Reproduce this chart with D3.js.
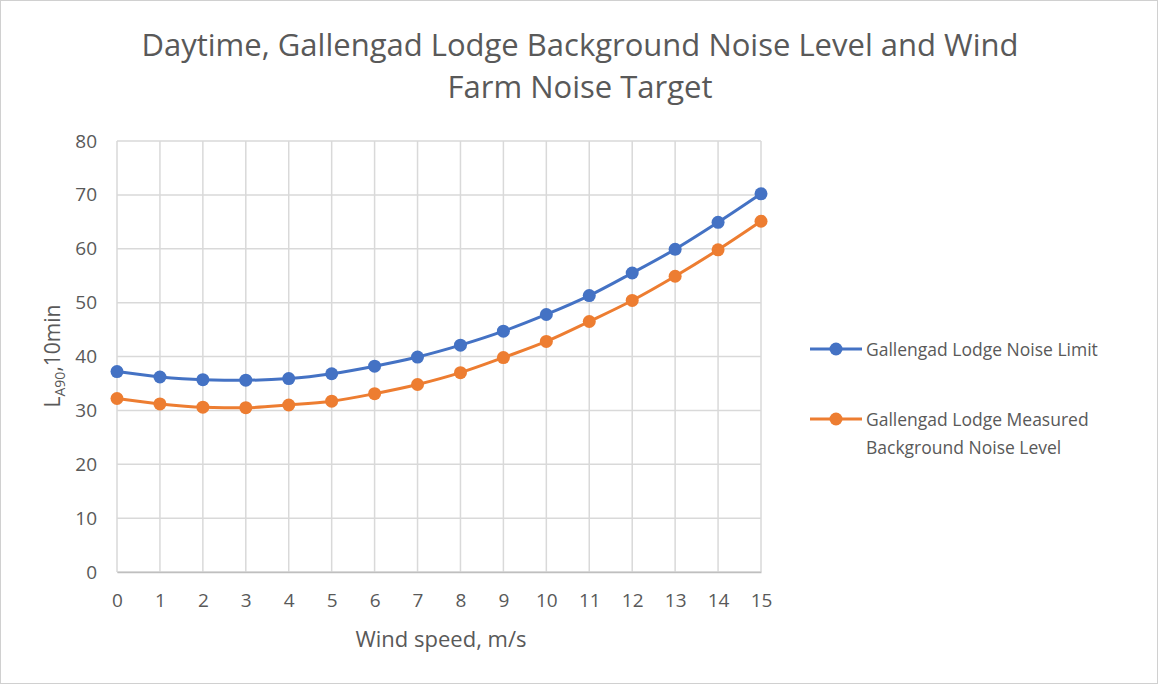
<!DOCTYPE html>
<html>
<head>
<meta charset="utf-8">
<script src="https://cdn.jsdelivr.net/npm/d3@7"></script>
<style>
  body { margin: 0; background: #fff; }
  text { font-family: "Open Sans", Lato, sans-serif; fill: #595959; }
</style>
</head>
<body>
<div id="wrapper"></div>
<script>
// wind speed categories, m/s
const windSpeeds = [0, 1, 2, 3, 4, 5, 6, 7, 8, 9, 10, 11, 12, 13, 14, 15];
// Gallengad Lodge noise limit
const noiseLimit = [37.2, 36.2, 35.7, 35.6, 35.9, 36.8, 38.2, 39.9, 42.1, 44.7, 47.8, 51.3, 55.5, 59.9, 64.9, 70.2];
// measured background noise level
const backgroundNoise = [32.2, 31.2, 30.6, 30.5, 31.0, 31.7, 33.1, 34.8, 37.0, 39.8, 42.8, 46.5, 50.4, 54.9, 59.8, 65.1];
const yTicks = [0, 10, 20, 30, 40, 50, 60, 70, 80];

const series = [
  { name: ["Gallengad Lodge Noise Limit"], values: noiseLimit, color: "#4472C4" },
  { name: ["Gallengad Lodge Measured", "Background Noise Level"], values: backgroundNoise, color: "#ED7D31" }
];

var width = 1160, height = 686;
var margin = { left: 117, right: 399, top: 141, bottom: 114 };

var svg = d3.select("#wrapper").append("svg")
  .attr("width", width)
  .attr("height", height);

// outer chart border
svg.append("rect")
  .attr("x", 0.5).attr("y", 0.5)
  .attr("width", width - 3).attr("height", height - 3)
  .attr("fill", "#fff")
  .attr("stroke", "#d0d0d0");

var x = d3.scaleLinear().domain([0, 15]).range([margin.left, width - margin.right]);
var y = d3.scaleLinear().domain([0, 80]).range([height - margin.bottom, margin.top]);

// gridlines
svg.append("g")
  .selectAll("line.h")
  .data(yTicks)
  .join("line")
  .attr("x1", x(0)).attr("x2", x(15))
  .attr("y1", d => y(d)).attr("y2", d => y(d))
  .attr("stroke", "#d9d9d9").attr("stroke-width", 1.5);

svg.append("g")
  .selectAll("line")
  .data(windSpeeds)
  .join("line")
  .attr("x1", d => x(d)).attr("x2", d => x(d))
  .attr("y1", y(0)).attr("y2", y(80))
  .attr("stroke", "#d9d9d9").attr("stroke-width", 1.5);

// bottom axis
var xAxis = svg.append("g")
  .attr("transform", "translate(0," + y(0) + ")")
  .call(d3.axisBottom(x).tickValues(windSpeeds).tickSize(0).tickPadding(22));
xAxis.select(".domain").attr("stroke", "#bfbfbf").attr("stroke-width", 1.5);
xAxis.selectAll("text").style("font-size", "19px").style("font-family", "'Open Sans'").attr("fill", "#595959");

var yAxis = svg.append("g")
  .attr("transform", "translate(" + (x(0) - 8) + ",0)")
  .call(d3.axisLeft(y).tickValues(yTicks).tickSize(0).tickPadding(12));
yAxis.select(".domain").remove();
yAxis.selectAll("text").style("font-size", "19px").style("font-family", "'Open Sans'").attr("fill", "#595959");

// axis titles
svg.append("text")
  .attr("x", 441).attr("y", 647)
  .attr("text-anchor", "middle")
  .style("font-size", "22px")
  .text("Wind speed, m/s");

var yTitle = svg.append("text")
  .attr("transform", "translate(60," + 356 + ") rotate(-90)")
  .attr("text-anchor", "middle")
  .style("font-size", "21px");
yTitle.append("tspan").text("L");
yTitle.append("tspan").attr("dy", 5).style("font-size", "14px").text("A90");
yTitle.append("tspan").attr("dy", -5).text(",10min");

// title
svg.append("text")
  .attr("x", 580).attr("y", 56)
  .attr("text-anchor", "middle")
  .style("font-size", "31px")
  .text("Daytime, Gallengad Lodge Background Noise Level and Wind");
svg.append("text")
  .attr("x", 580).attr("y", 98)
  .attr("text-anchor", "middle")
  .style("font-size", "31px")
  .text("Farm Noise Target");

// lines + markers
var line = d3.line()
  .x((d, i) => x(windSpeeds[i]))
  .y(d => y(d))
  .curve(d3.curveMonotoneX);

series.forEach(function (s) {
  svg.append("path")
    .datum(s.values)
    .attr("fill", "none")
    .attr("stroke", s.color)
    .attr("stroke-width", 3)
    .attr("d", line);
  svg.append("g")
    .selectAll("circle")
    .data(s.values)
    .join("circle")
    .attr("cx", (d, i) => x(windSpeeds[i]))
    .attr("cy", d => y(d))
    .attr("r", 6.5)
    .attr("fill", s.color);
});

// legend
var legendY = [349, 419];
series.forEach(function (s, i) {
  var g = svg.append("g").attr("transform", "translate(810," + legendY[i] + ")");
  g.append("line").attr("x1", 0).attr("x2", 52).attr("stroke", s.color).attr("stroke-width", 3);
  g.append("circle").attr("cx", 26).attr("r", 6.5).attr("fill", s.color);
  s.name.forEach(function (t, j) {
    g.append("text")
      .attr("x", 56).attr("y", 7 + j * 28)
      .style("font-size", "17.5px")
      .text(t);
  });
});
</script>
</body>
</html>
